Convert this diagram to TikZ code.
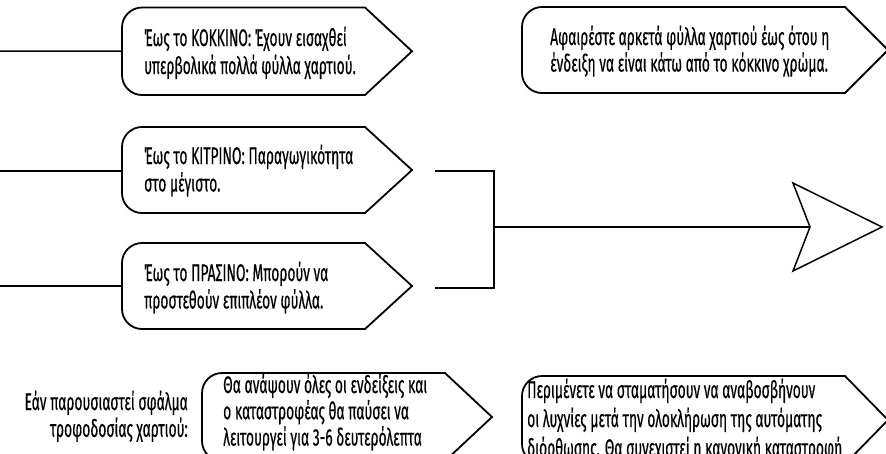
\documentclass[tikz,border=0pt]{standalone}
\usepackage{fontspec}
\setmainfont{Fira Sans}[FakeStretch=0.575, FakeBold=0.4]
\newcommand\tagshape[6]{% name, L, T, R, B, tip extension
  \coordinate (#1-w) at (#2,{(#3+#5)/2});
  \coordinate (#1-e) at ({#4+#6},{(#3+#5)/2});
  \draw[tagline] (#4,#3) -- ({#4+#6},{(#3+#5)/2}) -- (#4,#5) -- ({#2+20},#5)
    .. controls ({#2+9},#5) and (#2,{#5-9}) .. (#2,{#5-20}) -- (#2,{#3+20})
    .. controls (#2,{#3+9}) and ({#2+9},#3) .. ({#2+20},#3) -- cycle;}
\tikzset{
  tagline/.style={line width=1.8pt, line join=miter},
  conn/.style={line width=1.5pt},
  txt/.style={inner sep=0pt, anchor=base west},
  txtr/.style={txt, anchor=base east},
}
\begin{document}
\begin{tikzpicture}[x=1pt,y=-1pt]
\useasboundingbox (0,0) rectangle (886,453);
% boxes
\tagshape{b1}{122}{7.5}{365}{95}{47}
\tagshape{b2}{122}{127}{365}{213}{47}
\tagshape{b3}{122}{243}{365}{329}{47}
\tagshape{b4}{522}{7}{845}{93}{43}
\tagshape{b5}{202}{373}{445}{461}{47}
\tagshape{b6}{522}{376}{845}{464}{43}
% texts
\node[txt, font=\fontsize{24}{28}\selectfont] (t1) at (144,46) {\begin{tabular}[t]{@{}l@{}}Έως το ΚΟΚΚΙΝΟ: Έχουν εισαχθεί\\υπερβολικά πολλά φύλλα χαρτιού.\end{tabular}};
\node[txt, font=\fontsize{24}{27}\selectfont] (t2) at (144,164) {\begin{tabular}[t]{@{}l@{}}Έως το ΚΙΤΡΙΝΟ: Παραγωγικότητα\\στο μέγιστο.\end{tabular}};
\node[txt, font=\fontsize{24}{27}\selectfont] (t3) at (144,281) {\begin{tabular}[t]{@{}l@{}}Έως το ΠΡΑΣΙΝΟ: Μπορούν να\\προστεθούν επιπλέον φύλλα.\end{tabular}};
\node[txt, font=\fontsize{24}{24}\selectfont] (t4) at (550,45) {\begin{tabular}[t]{@{}l@{}}Αφαιρέστε αρκετά φύλλα χαρτιού έως ότου η\\ένδειξη να είναι κάτω από το κόκκινο χρώμα.\end{tabular}};
\node[txtr, font=\fontsize{24}{25}\selectfont] (t0) at (188,410) {\begin{tabular}[t]{@{}r@{}}Εάν παρουσιαστεί σφάλμα\\τροφοδοσίας χαρτιού:\end{tabular}};
\node[txt, font=\fontsize{24}{23}\selectfont] (t5) at (223,393) {\begin{tabular}[t]{@{}l@{}}Θα ανάψουν όλες οι ενδείξεις και\\ο καταστροφέας θα παύσει να\\λειτουργεί για 3-6 δευτερόλεπτα\end{tabular}};
\node[txt, font=\fontsize{24}{29}\selectfont] (t6) at (527,398) {\begin{tabular}[t]{@{}l@{}}Περιμένετε να σταματήσουν να αναβοσβήνουν\\οι λυχνίες μετά την ολοκλήρωση της αυτόματης\\διόρθωσης. Θα συνεχιστεί η κανονική καταστροφή\end{tabular}};
% left connectors
\coordinate (l1) at (0,51);
\coordinate (l2) at (0,171);
\coordinate (l3) at (0,286);
\draw[conn] (l1) -- (b1-w);
\draw[conn] (l2) -- (l2 -| b2-w);
\draw[conn] (l3) -- (b3-w);
% bracket
\coordinate (j2) at (435,171);
\coordinate (j3) at (435,288);
\coordinate (jm) at (494,227);
\draw[conn] (j2) -| (jm) |- (j3);
% big open arrow
\coordinate (an) at (810,227);
\coordinate (at) at (882,227);
\coordinate (au) at (793,183);
\coordinate (ad) at (793,271);
\draw[conn] (jm) -- (an);
\draw[conn, line join=miter] (au) -- (at) -- (ad) -- (an) -- cycle;
\end{tikzpicture}
\end{document}
